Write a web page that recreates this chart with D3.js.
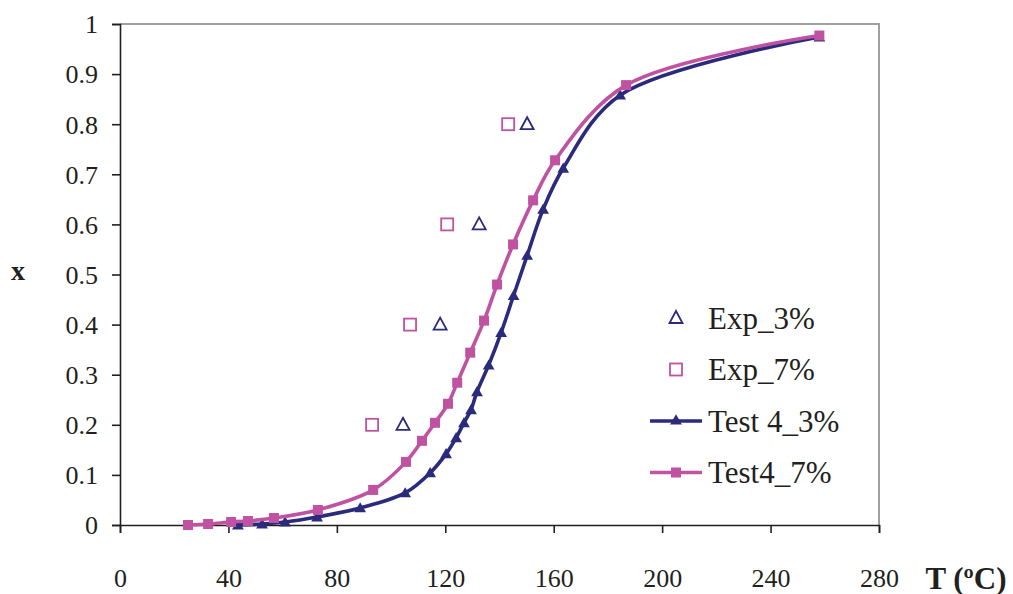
<!DOCTYPE html>
<html>
<head>
<meta charset="utf-8">
<script src="https://cdn.jsdelivr.net/npm/d3@7"></script>
<style>
  html, body { margin: 0; padding: 0; background: #fff; }
  svg { display: block; }
  text { font-family: "Liberation Serif", "Times New Roman", serif; fill: #231f20; }
</style>
</head>
<body>
<svg id="chart" width="1013" height="594"></svg>
<script>
// Conversion x versus temperature T (ºC)
const xTicks = [0, 40, 80, 120, 160, 200, 240, 280];
const yTicks = [0, 0.1, 0.2, 0.3, 0.4, 0.5, 0.6, 0.7, 0.8, 0.9, 1];

// Experimental points
const exp3T = [104.4, 118.1, 132.5, 150.2];
const exp3X = [0.2, 0.4, 0.6, 0.8];
const exp7T = [93.0, 107.0, 120.7, 143.2];
const exp7X = [0.2, 0.4, 0.6, 0.8];

// Model curve, Test 4 at 3%
const test3T = [43.5, 52.4, 60.9, 72.7, 88.6, 105.2, 114.4, 120.3, 124.0, 126.9, 129.5, 131.7, 136.0, 140.6, 145.2, 150.2, 156.1, 163.5, 184.5, 258.0];
const test3X = [0.000, 0.002, 0.006, 0.016, 0.034, 0.064, 0.104, 0.142, 0.174, 0.204, 0.230, 0.266, 0.319, 0.384, 0.458, 0.538, 0.630, 0.712, 0.858, 0.974];

// Model curve, Test 4 at 7%
const test7T = [25.1, 32.5, 41.0, 47.2, 56.8, 73.0, 93.4, 105.5, 111.4, 116.2, 121.0, 124.4, 129.2, 134.3, 139.1, 145.0, 152.4, 160.5, 186.7, 258.0];
const test7X = [0.000, 0.002, 0.006, 0.008, 0.014, 0.030, 0.070, 0.126, 0.168, 0.204, 0.242, 0.284, 0.344, 0.408, 0.480, 0.560, 0.648, 0.728, 0.878, 0.977];

const navy = "#2b2a7c";
const magenta = "#c052a2";

const svg = d3.select("#chart");
const plotL = 120, plotR = 879, plotT = 24, plotB = 525;

const x = d3.scaleLinear().domain([0, 280]).range([plotL, plotR]);
const y = d3.scaleLinear().domain([0, 1]).range([plotB, plotT]);

// Plot-area frame (top and right edges)
svg.append("path")
  .attr("d", `M${plotL},${plotT}H${plotR}V${plotB}`)
  .attr("fill", "none")
  .attr("stroke", "#a0a0a0")
  .attr("stroke-width", 2);

// Axes
const xAxis = svg.append("g")
  .attr("transform", `translate(0,${plotB})`)
  .call(d3.axisBottom(x).tickValues(xTicks).tickSize(8).tickFormat(d3.format("d")));
const yAxis = svg.append("g")
  .attr("transform", `translate(${plotL},0)`)
  .call(d3.axisLeft(y).tickValues(yTicks).tickSize(8).tickPadding(14)
    .tickFormat(d => d === 0 || d === 1 ? d3.format("d")(d) : d3.format(".1f")(d)));

[xAxis, yAxis].forEach(g => {
  g.select(".domain").attr("stroke", "#231f20").attr("stroke-width", 1.6);
  g.selectAll(".tick line").attr("stroke", "#231f20").attr("stroke-width", 1.6);
  g.selectAll(".tick text")
    .style("font-family", '"Liberation Serif", "Times New Roman", serif')
    .style("font-size", "26px")
    .attr("fill", "#231f20");
});
xAxis.selectAll(".tick text").attr("y", 53).attr("dy", "0.35em");
yAxis.selectAll(".tick text").attr("dy", "0.34em");

// Axis titles
svg.append("text")
  .attr("x", 18).attr("y", 270)
  .attr("text-anchor", "middle")
  .attr("dominant-baseline", "central")
  .style("font-size", "28px").style("font-weight", "bold")
  .text("x");
svg.append("text")
  .attr("x", 966).attr("y", 578)
  .attr("text-anchor", "middle")
  .attr("dominant-baseline", "central")
  .style("font-size", "31px").style("font-weight", "bold")
  .text("T (ºC)");

// Model curves
const line = d3.line().curve(d3.curveCatmullRom.alpha(0.5));
const tri = d3.symbol().type(d3.symbolTriangle);

function series(T, X, color, marker) {
  const pts = T.map((t, i) => [x(t), y(X[i])]);
  svg.append("path")
    .attr("d", line(pts))
    .attr("fill", "none")
    .attr("stroke", color)
    .attr("stroke-width", 3.6)
    .attr("stroke-linejoin", "round");
  const g = svg.append("g");
  pts.forEach(p => {
    if (marker === "square") {
      g.append("rect")
        .attr("x", p[0] - 5).attr("y", p[1] - 5)
        .attr("width", 10).attr("height", 10)
        .attr("fill", color);
    } else {
      g.append("path")
        .attr("d", tri.size(60)())
        .attr("transform", `translate(${p[0]},${p[1] + 1})`)
        .attr("fill", color);
    }
  });
}
series(test3T, test3X, navy, "triangle");
series(test7T, test7X, magenta, "square");

// Experimental markers (open)
function openMarker(g, cx, cy, kind, color) {
  if (kind === "square") {
    g.append("rect")
      .attr("x", cx - 6).attr("y", cy - 6)
      .attr("width", 12).attr("height", 12)
      .attr("fill", "none").attr("stroke", color).attr("stroke-width", 1.8);
  } else {
    g.append("path")
      .attr("d", `M${cx},${cy - 7}L${cx + 6.5},${cy + 5}L${cx - 6.5},${cy + 5}Z`)
      .attr("fill", "none").attr("stroke", color).attr("stroke-width", 1.8)
      .attr("stroke-linejoin", "miter");
  }
}
const expG = svg.append("g");
exp3T.forEach((t, i) => openMarker(expG, x(t), y(exp3X[i]), "triangle", navy));
exp7T.forEach((t, i) => openMarker(expG, x(t), y(exp7X[i]), "square", magenta));

// Legend
const legendItems = [
  { label: "Exp_3%", kind: "triangle", color: navy, line: false },
  { label: "Exp_7%", kind: "square", color: magenta, line: false },
  { label: "Test 4_3%", kind: "triangle", color: navy, line: true },
  { label: "Test4_7%", kind: "square", color: magenta, line: true }
];
const legend = svg.append("g");
legendItems.forEach((d, i) => {
  const cy = 318 + i * 51.5;
  const cx = 676;
  if (d.line) {
    legend.append("line")
      .attr("x1", 650).attr("x2", 702).attr("y1", cy).attr("y2", cy)
      .attr("stroke", d.color).attr("stroke-width", 3.6);
    if (d.kind === "square") {
      legend.append("rect").attr("x", cx - 5).attr("y", cy - 5)
        .attr("width", 10).attr("height", 10).attr("fill", d.color);
    } else {
      legend.append("path").attr("d", tri.size(60)())
        .attr("transform", `translate(${cx},${cy})`).attr("fill", d.color);
    }
  } else {
    openMarker(legend, cx, cy, d.kind, d.color);
  }
  legend.append("text")
    .attr("x", 708).attr("y", cy)
    .attr("dominant-baseline", "central")
    .style("font-size", "31px")
    .text(d.label);
});
</script>
</body>
</html>
